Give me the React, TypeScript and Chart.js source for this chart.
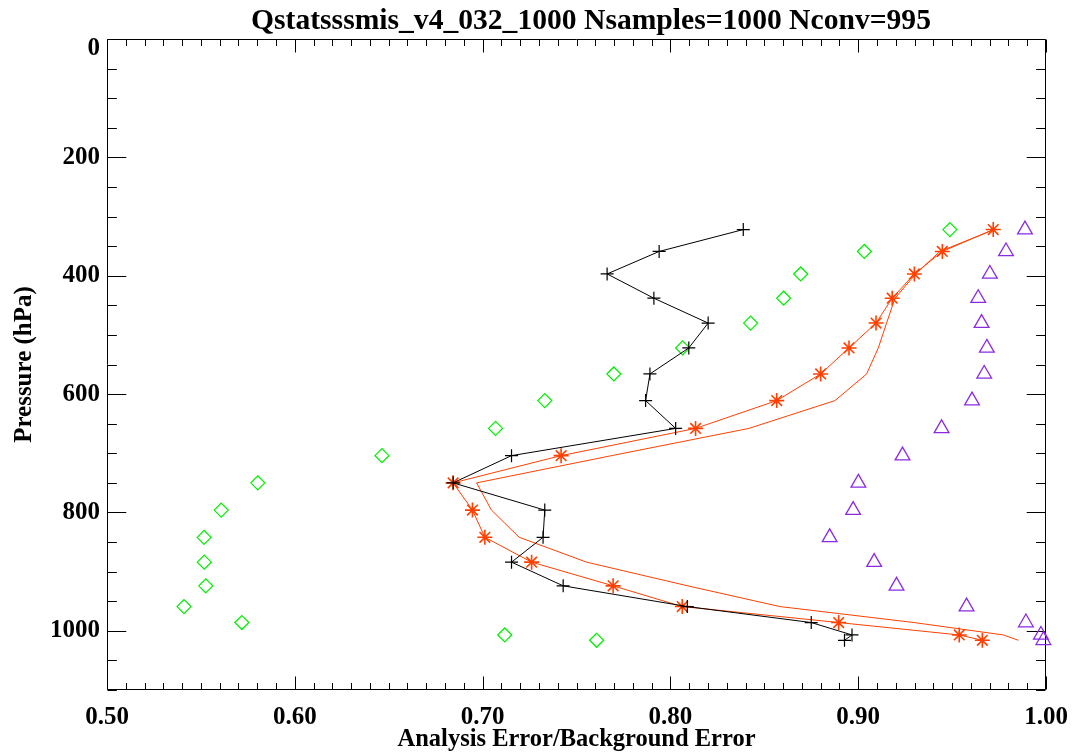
import React, { useEffect, useRef } from 'react';
import { Chart, registerables } from 'chart.js';

Chart.register(...registerables);

const chartTitle = 'Qstatsssmis_v4_032_1000 Nsamples=1000 Nconv=995';
const xAxisTitle = 'Analysis Error/Background Error';
const yAxisTitle = 'Pressure (hPa)';

const pressureLevels = [322, 359, 397, 438, 480, 522, 566, 611, 658, 704, 750, 796, 842, 884, 924, 959, 986, 1007, 1016];

const blackRatio = [0.8388, 0.794, 0.7663, 0.7912, 0.8201, 0.8098, 0.7891, 0.7868, 0.8028, 0.7154, 0.6843, 0.7331, 0.7322, 0.7154, 0.7429, 0.809, 0.875, 0.8967, 0.8927];
const starRatio = [0.9719, 0.9448, 0.9299, 0.9181, 0.9095, 0.8951, 0.88, 0.8566, 0.8134, 0.7418, 0.6843, 0.6946, 0.7012, 0.7261, 0.7695, 0.8063, 0.8896, 0.9538, 0.9661];
const plainRatio = [0.9724, 0.9435, 0.9306, 0.9196, 0.9151, 0.9107, 0.9045, 0.8876, 0.8418, 0.7687, 0.6968, 0.7047, 0.7195, 0.7554, 0.8092, 0.8583, 0.9297, 0.9773, 0.9853];
const diamondRatio = [0.9488, 0.9033, 0.8694, 0.8603, 0.8427, 0.8065, 0.7699, 0.7331, 0.7069, 0.6464, 0.5803, 0.5608, 0.5517, 0.5518, 0.5526, 0.541, 0.5718, 0.7118, 0.7607];
const triangleRatio = [0.9888, 0.9787, 0.9701, 0.9639, 0.9657, 0.9685, 0.9671, 0.9606, 0.9444, 0.9236, 0.9001, 0.8973, 0.8848, 0.9085, 0.9204, 0.9577, 0.9893, 0.9973, 0.9986];

const xTickValues = [0.5, 0.6, 0.7, 0.8, 0.9, 1.0];
const xTickLabels = ['0.50', '0.60', '0.70', '0.80', '0.90', '1.00'];
const yTickValues = [0, 200, 400, 600, 800, 1000];
const yTickLabels = ['0', '200', '400', '600', '800', '1000'];
const xMinorStep = 0.01;
const yMinorStep = 50;

const FONT = '"Liberation Serif", "Times New Roman", serif';

const toPoints = (vals: number[]) => vals.map((v, i) => ({ x: v, y: pressureLevels[i] }));

const idlAxesPlugin = {
  id: 'idlAxes',
  beforeDatasetsDraw(chart: any) {
    const { ctx, chartArea } = chart;
    const xs = chart.scales.x;
    const ys = chart.scales.y;
    const L = Math.round(chartArea.left) + 0.5;
    const R = Math.round(chartArea.right) - 0.5;
    const T = Math.round(chartArea.top) + 0.5;
    const B = Math.round(chartArea.bottom) - 0.5;
    const h = chartArea.bottom - chartArea.top;
    const w = chartArea.right - chartArea.left;
    const xMaj = 0.02 * h;
    const xMin = xMaj / 2;
    const yMaj = 0.02 * w;
    const yMin = yMaj / 2;
    ctx.save();
    ctx.strokeStyle = '#000';
    ctx.lineWidth = 1;
    ctx.beginPath();
    ctx.rect(L, T, R - L, B - T);
    ctx.stroke();
    ctx.beginPath();
    const nx = Math.round((xs.max - xs.min) / xMinorStep);
    for (let i = 0; i <= nx; i++) {
      const v = xs.min + i * xMinorStep;
      const px = Math.round(xs.getPixelForValue(v)) + 0.5;
      const major = xTickValues.some((t) => Math.abs(t - v) < 1e-6);
      const len = major ? xMaj : xMin;
      ctx.moveTo(px, B);
      ctx.lineTo(px, B - len);
      ctx.moveTo(px, T);
      ctx.lineTo(px, T + len);
    }
    const ny = Math.round((ys.max - ys.min) / yMinorStep);
    for (let i = 0; i <= ny; i++) {
      const v = ys.min + i * yMinorStep;
      const py = Math.round(ys.getPixelForValue(v)) + 0.5;
      const major = yTickValues.some((t) => Math.abs(t - v) < 1e-6);
      const len = major ? yMaj : yMin;
      ctx.moveTo(L, py);
      ctx.lineTo(L + len, py);
      ctx.moveTo(R, py);
      ctx.lineTo(R - len, py);
    }
    ctx.stroke();
    ctx.restore();
  },
  afterDraw(chart: any) {
    const { ctx, chartArea } = chart;
    const xs = chart.scales.x;
    const ys = chart.scales.y;
    ctx.save();
    ctx.fillStyle = '#000';
    ctx.font = `bold 25px ${FONT}`;
    ctx.textAlign = 'center';
    ctx.textBaseline = 'alphabetic';
    xTickValues.forEach((v, i) => {
      ctx.fillText(xTickLabels[i], xs.getPixelForValue(v), chartArea.bottom + 34);
    });
    ctx.textAlign = 'right';
    ctx.textBaseline = 'middle';
    yTickValues.forEach((v, i) => {
      let py = ys.getPixelForValue(v);
      py = Math.max(py, chartArea.top + 10);
      ctx.fillText(yTickLabels[i], chartArea.left - 7, py);
    });
    ctx.font = `bold 24.5px ${FONT}`;
    ctx.textAlign = 'center';
    ctx.textBaseline = 'alphabetic';
    ctx.fillText(xAxisTitle, (chartArea.left + chartArea.right) / 2, 746);
    ctx.save();
    ctx.translate(31, (chartArea.top + chartArea.bottom) / 2);
    ctx.rotate(-Math.PI / 2);
    ctx.font = `bold 25px ${FONT}`;
    ctx.textAlign = 'center';
    ctx.textBaseline = 'alphabetic';
    ctx.fillText(yAxisTitle, 0, 0);
    ctx.restore();
    ctx.font = `bold 29.6px ${FONT}`;
    ctx.textAlign = 'center';
    ctx.textBaseline = 'alphabetic';
    ctx.fillText(chartTitle, 591, 29);
    ctx.restore();
  },
};

export default function App() {
  const canvasRef = useRef<HTMLCanvasElement | null>(null);
  useEffect(() => {
    if (!canvasRef.current) return;
    const orange = '#ff4000';
    const chart = new Chart(canvasRef.current, {
      type: 'scatter',
      data: {
        datasets: [
          {
            label: 'ratio',
            data: toPoints(blackRatio),
            showLine: true,
            borderColor: '#000000',
            backgroundColor: '#000000',
            borderWidth: 1,
            pointStyle: 'cross',
            pointRadius: 6.5,
            pointBorderWidth: 1.2,
            pointBorderColor: '#000000',
          },
          {
            label: 'star',
            data: toPoints(starRatio),
            showLine: true,
            borderColor: orange,
            backgroundColor: orange,
            borderWidth: 1,
            pointStyle: 'star',
            pointRadius: 7.5,
            pointBorderWidth: 1.6,
            pointBorderColor: orange,
          },
          {
            label: 'plain',
            data: toPoints(plainRatio),
            showLine: true,
            borderColor: orange,
            borderWidth: 1,
            pointRadius: 0,
          },
          {
            label: 'diamond',
            data: toPoints(diamondRatio),
            showLine: false,
            pointStyle: 'rectRot',
            pointRadius: 7,
            pointBorderWidth: 1.2,
            pointBorderColor: '#00ee00',
            pointBackgroundColor: 'rgba(0,0,0,0)',
            clip: false,
          },
          {
            label: 'triangle',
            data: toPoints(triangleRatio),
            showLine: false,
            pointStyle: 'triangle',
            pointRadius: 8.5,
            pointBorderWidth: 1.3,
            pointBorderColor: '#8a2be2',
            pointBackgroundColor: 'rgba(0,0,0,0)',
            clip: false,
          } as any,
        ],
      },
      options: {
        animation: false,
        responsive: false,
        events: [],
        layout: { padding: { left: 107, right: 28, top: 39, bottom: 64 } },
        plugins: { legend: { display: false }, tooltip: { enabled: false }, title: { display: false } },
        scales: {
          x: { type: 'linear', min: 0.5, max: 1.0, display: false },
          y: { type: 'linear', min: 0, max: 1100, reverse: true, display: false },
        },
      },
      plugins: [idlAxesPlugin],
    } as any);
    return () => chart.destroy();
  }, []);
  return (
    <div style={{ position: 'absolute', left: 0, top: 0, width: 1074, height: 754, background: '#fff' }}>
      <canvas ref={canvasRef} width={1074} height={754} />
    </div>
  );
}
